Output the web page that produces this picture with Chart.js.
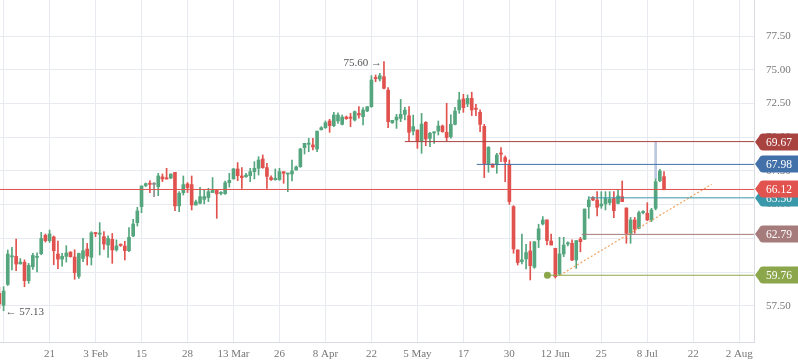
<!DOCTYPE html>
<html>
<head>
<meta charset="utf-8">
<script src="https://cdn.jsdelivr.net/npm/chart.js@4.4.1/dist/chart.umd.min.js"></script>
<style>
html,body{margin:0;padding:0;background:#fff;}
#wrap{width:798px;height:363px;position:relative;}
</style>
</head>
<body>
<div id="wrap"><canvas id="myChart"></canvas></div>
<script>
// daily candles, one per trading day (index 0..159)
const opens=[58.42,57.53,59.08,61.12,61.16,60.6,60.72,59.36,60.39,61.08,61.36,62.72,62.32,62.6,61.33,60.96,61.16,61.48,61.11,59.68,
61.01,61.7,61.09,62.88,62.8,62.62,62.0,62.42,61.64,62.02,61.93,61.58,62.67,63.66,64.85,66.41,66.55,66.5,66.33,67.05,
66.95,66.97,67.39,64.9,65.88,66.53,66.48,64.97,65.1,65.39,65.52,65.89,66.08,65.82,65.81,66.62,66.9,67.64,67.12,67.07,
67.14,67.44,67.69,68.38,67.74,67.0,66.85,66.85,67.44,67.26,67.27,67.56,67.81,69.22,69.47,69.42,69.12,70.55,70.7,71.2,
70.85,71.2,70.95,71.49,71.44,71.27,71.76,71.52,71.94,72.26,74.38,74.31,74.48,73.49,71.07,71.27,71.39,71.69,71.59,70.45,
70.53,69.71,71.1,69.91,70.31,70.45,70.83,70.36,70.04,70.95,72.02,72.83,72.46,72.88,72.09,71.84,70.8,68.01,68.01,68.01,
68.78,68.48,67.99,64.85,61.64,60.77,60.97,61.56,60.35,62.38,63.56,63.86,62.3,61.76,59.85,61.34,62.08,62.13,60.89,62.43,
62.43,64.84,65.51,65.34,64.9,65.04,65.14,65.46,65.09,65.59,64.75,62.82,63.86,63.24,64.4,64.35,63.86,64.72,66.78,67.07];
const highs=[58.86,58.91,61.63,61.83,62.45,61.0,60.9,60.64,61.38,61.43,62.94,62.82,63.11,62.67,62.3,61.38,61.95,61.5,61.65,61.4,
62.49,62.12,62.99,62.94,63.66,62.99,62.69,62.86,62.38,62.08,62.28,63.29,63.91,64.8,66.38,66.6,66.78,66.63,67.32,67.27,
67.69,67.27,67.39,65.96,67.12,66.63,67.12,65.34,66.28,66.08,66.21,67.0,66.08,65.96,66.75,67.32,67.69,68.11,67.74,67.32,
67.69,68.18,68.55,68.68,68.06,67.14,67.64,67.69,67.44,67.32,68.3,67.86,69.17,69.54,69.91,69.91,70.45,70.78,71.2,71.32,
71.84,71.81,71.64,71.57,71.76,71.94,72.26,72.19,72.26,74.56,74.61,74.73,75.6,73.67,71.25,71.69,72.8,72.21,72.26,71.64,
70.53,71.76,71.15,70.36,70.4,71.2,70.9,72.51,71.65,72.21,73.33,73.18,73.13,73.33,72.44,72.02,70.95,69.3,68.01,68.8,
69.22,68.6,68.31,64.92,61.64,62.82,62.06,62.25,62.25,63.54,64.11,63.86,62.82,61.76,62.57,62.57,62.23,62.38,62.33,62.57,
64.67,65.59,65.59,65.96,65.96,65.96,65.96,65.96,66.08,66.75,64.75,64.05,64.05,64.52,64.55,65.14,64.72,66.9,67.61,67.44];
const lows=[57.3,57.13,59.0,60.15,60.1,60.59,58.91,59.16,60.2,60.0,61.28,62.22,62.2,60.54,60.24,60.44,60.74,61.1,59.46,59.53,
60.76,60.52,60.52,62.62,61.26,61.68,61.09,60.64,61.55,61.9,60.89,61.51,62.62,63.41,64.4,66.33,65.89,65.59,65.66,66.7,
66.88,66.92,64.55,64.48,65.71,65.89,64.6,64.95,65.05,65.05,65.22,65.89,63.98,65.71,65.76,66.3,66.9,66.77,66.2,67.02,
66.7,66.9,67.19,67.69,66.2,66.8,66.8,66.8,66.58,65.96,66.75,67.56,67.76,68.75,68.92,69.05,68.92,70.53,70.65,70.36,
70.78,71.02,70.9,71.32,70.78,71.2,71.4,70.9,71.89,72.21,74.11,74.16,73.57,70.7,71.02,70.65,71.15,71.27,69.71,70.16,
69.17,68.8,69.37,69.29,69.54,70.16,70.36,69.72,69.92,70.9,71.77,71.84,72.26,71.6,71.6,70.41,67.0,67.4,67.77,67.32,
68.19,66.7,65.02,61.39,60.52,60.6,60.23,59.41,60.28,61.81,63.49,62.0,62.0,59.55,59.78,61.14,61.93,60.84,60.27,61.5,
62.4,63.98,65.29,64.15,64.72,64.6,64.97,64.03,65.04,65.22,62.13,62.13,62.87,63.19,64.3,63.81,63.74,64.6,66.7,66.08];
const closes=[57.63,58.59,61.33,61.18,60.59,60.74,59.36,60.49,61.23,61.14,62.49,62.32,62.82,61.58,60.96,61.16,61.41,61.14,59.95,61.38,
61.58,61.18,62.91,62.84,62.84,62.07,62.49,61.63,61.93,61.97,61.58,62.57,63.56,64.53,66.38,66.55,66.5,66.5,67.12,66.9,
66.9,67.27,64.9,65.84,66.48,66.26,64.97,65.2,65.59,65.59,65.96,66.08,65.79,65.86,66.62,66.8,67.64,67.14,67.0,67.19,
67.44,67.69,68.3,67.74,67.09,66.85,66.95,67.44,67.32,67.29,67.49,67.79,69.12,69.54,69.5,69.27,70.45,70.7,71.07,70.85,
71.64,71.64,71.49,71.37,71.4,71.89,71.64,72.01,72.26,74.24,74.34,74.56,73.62,71.15,71.25,71.49,71.69,72.01,70.36,70.78,
69.71,70.97,69.86,70.28,70.33,70.83,70.41,69.97,70.95,71.94,72.76,72.19,72.88,72.02,72.06,70.95,68.04,69.25,67.77,68.68,
68.74,68.19,65.22,61.71,60.7,60.9,61.44,60.47,62.25,63.2,63.86,62.33,62.0,59.65,61.34,62.0,62.13,60.89,62.33,62.25,
64.67,65.34,65.34,64.8,65.04,65.46,65.41,64.55,65.64,65.22,62.87,63.86,63.17,64.4,64.45,63.86,64.6,66.7,67.49,66.13];

// x axis ticks (trading-day index) and labels
const xTickPos=[1,12,23,34,45,56,67,78,89,100,111,122,133,144,155,166,177];
const xTickLabels=["","21","3 Feb","15","28","13 Mar","26","8 Apr","22","5 May","17","30","12 Jun","25","8 Jul","22","2 Aug"];
const yTicks=[57.5,60,62.5,65,67.5,70,72.5,75,77.5];

// horizontal levels: value, first day index, colour
const levels=[69.67,67.98,66.12,65.50,62.79,59.76];
const levelFrom=[97,114.2,0,141.2,139.3,131.1];
const levelColors=["#a8433f","#4271a9","#e0534f","#3a98ab","#a67b7b","#8ca74b"];

// rising trend line and pivot dot
const trendX=[134.1,170.4];
const trendY=[59.76,66.5];
const pivotX=131.1, pivotY=59.76;

// spike on the breakout day
const spikeIdx=157;
const spikeRange=[66.9,69.67];

const xMin=0.14, xMax=180.53;
const up='#55a67e', down='#e1524e', flat='#8c8c8c';

const candleColor=opens.map((o,i)=>closes[i]>o?up:(closes[i]<o?down:flat));

const ds=[];
levels.forEach((lv,i)=>{
  ds.push({type:'line',data:[{x:Math.max(levelFrom[i],xMin),y:lv},{x:xMax,y:lv}],
    borderColor:levelColors[i],borderWidth:1,pointRadius:0,pointHoverRadius:0});
});
ds.push({type:'line',data:[{x:trendX[0],y:trendY[0]},{x:trendX[1],y:trendY[1]}],
  borderColor:'#f2a35e',borderWidth:1.2,borderDash:[2,2],pointRadius:0,pointHoverRadius:0});
ds.push({type:'line',data:[{x:pivotX,y:pivotY}],showLine:false,pointRadius:3.5,pointHoverRadius:3.5,
  pointBackgroundColor:'#8ca74b',pointBorderWidth:0});
ds.push({type:'bar',data:opens.map((o,i)=>({x:i,y:[Math.min(o,closes[i]),Math.max(o,closes[i])]})),
  backgroundColor:candleColor,barThickness:3,minBarLength:1.2,grouped:false,borderWidth:0});
ds.push({type:'bar',data:lows.map((l,i)=>({x:i,y:[l,highs[i]]})),
  backgroundColor:candleColor,barThickness:1,grouped:false,borderWidth:0});
ds.push({type:'bar',data:[{x:spikeIdx,y:spikeRange}],
  backgroundColor:'#bcc7e2',barThickness:2,grouped:false,borderWidth:0});

const overlay={
  id:'overlay',
  afterDraw(chart){
    const {ctx,scales:{x,y}}=chart;
    ctx.save();
    ctx.font='11px "Liberation Serif"';
    ctx.fillStyle='#555';
    ctx.textBaseline='middle';
    // high / low notes
    const hi=Math.max(...highs), hiIdx=highs.indexOf(hi);
    const lo=Math.min(...lows), loIdx=lows.indexOf(lo);
    ctx.textAlign='right';
    ctx.fillText(hi.toFixed(2)+' \u2192',x.getPixelForValue(hiIdx)-2,y.getPixelForValue(hi)+1);
    ctx.textAlign='left';
    ctx.fillText('\u2190 '+lo.toFixed(2),x.getPixelForValue(loIdx)+2,y.getPixelForValue(lo)+1);
    // price tags on the right
    const order=[3,0,1,4,5,2];
    const l=chart.chartArea.right+1, h=8.5, r=3;
    order.forEach(i=>{
      const py=Math.round(y.getPixelForValue(levels[i]));
      ctx.beginPath();
      ctx.moveTo(l,py);
      ctx.lineTo(l+4,py-h+r);
      ctx.quadraticCurveTo(l+5,py-h,l+5+r,py-h);
      ctx.lineTo(802,py-h);
      ctx.lineTo(802,py+h);
      ctx.lineTo(l+5+r,py+h);
      ctx.quadraticCurveTo(l+5,py+h,l+4,py+h-r);
      ctx.closePath();
      ctx.fillStyle=levelColors[i];
      ctx.fill();
      ctx.fillStyle='#fff';
      ctx.font='11.5px "Liberation Serif"';
      ctx.textAlign='left';
      ctx.fillText(levels[i].toFixed(2),766,py+1);
    });
    ctx.restore();
  }
};

new Chart(document.getElementById('myChart'),{
  type:'bar',
  data:{datasets:ds},
  options:{
    responsive:true,
    maintainAspectRatio:false,
    animation:false,
    layout:{padding:0,autoPadding:false},
    plugins:{legend:{display:false},tooltip:{enabled:false}},
    scales:{
      x:{
        type:'linear',min:xMin,max:xMax,offset:false,
        grid:{color:'#e7eaee',offset:false,drawTicks:false},
        border:{color:'#d9dde2'},
        afterBuildTicks:s=>{s.ticks=xTickPos.map(v=>({value:v}));},
        afterFit:s=>{s.height=21;s.paddingLeft=0;s.paddingRight=0;},
        ticks:{autoSkip:false,maxRotation:0,padding:6,color:'#777',
          font:{family:'Liberation Serif',size:11},
          callback:(v,i)=>xTickLabels[i]}
      },
      y:{
        position:'right',min:54.81,max:80.17,
        grid:{color:'#e7eaee',drawTicks:false},
        border:{color:'#d9dde2'},
        afterBuildTicks:s=>{s.ticks=yTicks.map(v=>({value:v}));},
        afterFit:s=>{s.width=44;s.paddingTop=0;s.paddingBottom=0;},
        ticks:{padding:12,color:'#777',font:{family:'Liberation Serif',size:11},
          callback:v=>v.toFixed(2)}
      }
    }
  },
  plugins:[overlay]
});
</script>
</body>
</html>
